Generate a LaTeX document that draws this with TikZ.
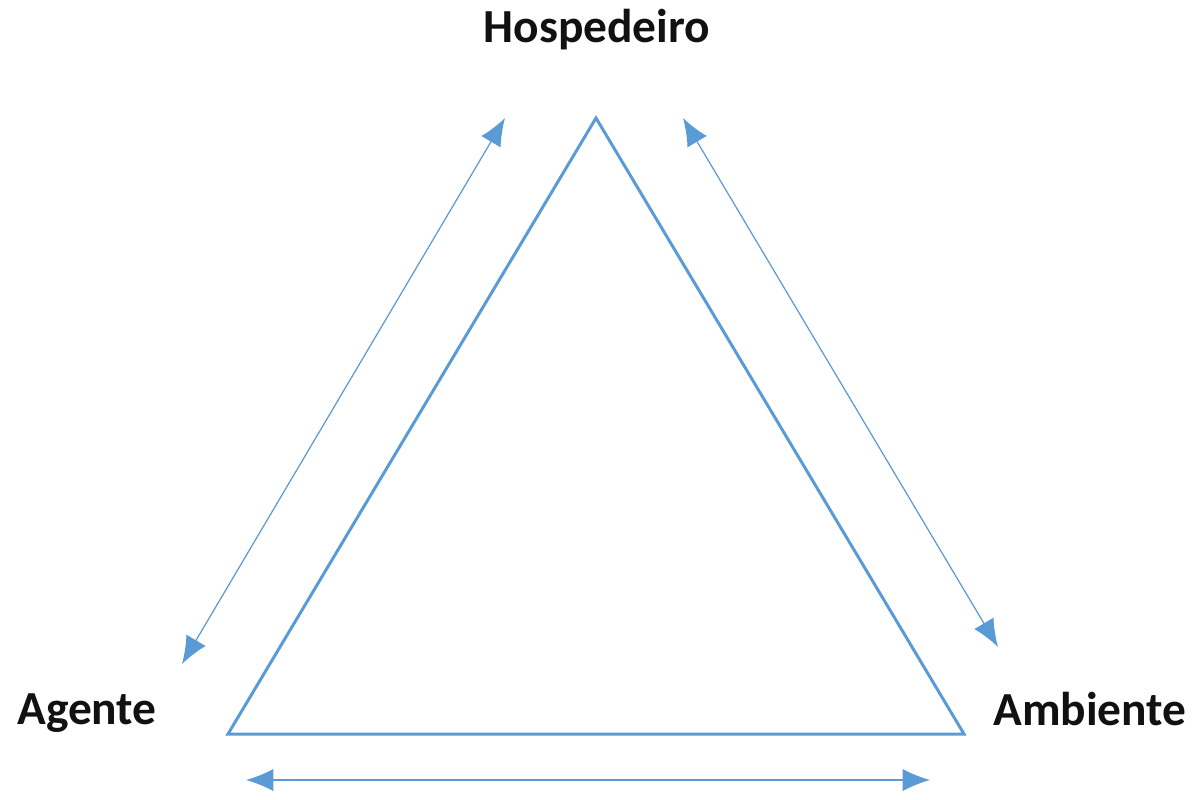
\documentclass[tikz,border=0pt]{standalone}
\usepackage{fontspec}
\setmainfont{Carlito}
\usepackage{tikz}
\usetikzlibrary{arrows.meta,positioning,calc}
\definecolor{Ink}{HTML}{111111}
\definecolor{Blue}{HTML}{5B9BD5}
\tikzset{
  label/.style={font=\bfseries\fontsize{27}{30}\selectfont,text=Ink,inner sep=0pt},
  side/.style={draw=Blue,line width=1.7pt,line join=miter},
  twoway/.style={{Latex[length=5.5mm,width=4.5mm]}-{Latex[length=5.5mm,width=4.5mm]},line width=0.7pt,draw=Blue}
}

\begin{document}
\begin{tikzpicture}[x=0.02cm,y=-0.02cm]
\useasboundingbox (0,0) rectangle (1196,799);
\node[label] (host) at (597,30) {Hospedeiro};
\node[label] (agent) at (87,713) {Agente};
\node[label] (env) at (1090,709) {Ambiente};
\coordinate (top) at (596,118);
\coordinate (left) at (228,734);
\coordinate (right) at (964,734);
\draw[side] (top)--(right)--(left)--cycle;
% arrows along the sides
\coordinate (a1) at (182,664);
\coordinate (a2) at (505,118);
\coordinate (b1) at (683,118);
\coordinate (b2) at (998,647);
\coordinate (c1) at (246,780);
\coordinate (c2) at (930,780);
\draw[twoway] (a1)--(a2);
\draw[twoway] (b1)--(b2);
\draw[twoway] (c1)--(c2);
\end{tikzpicture}
\end{document}
